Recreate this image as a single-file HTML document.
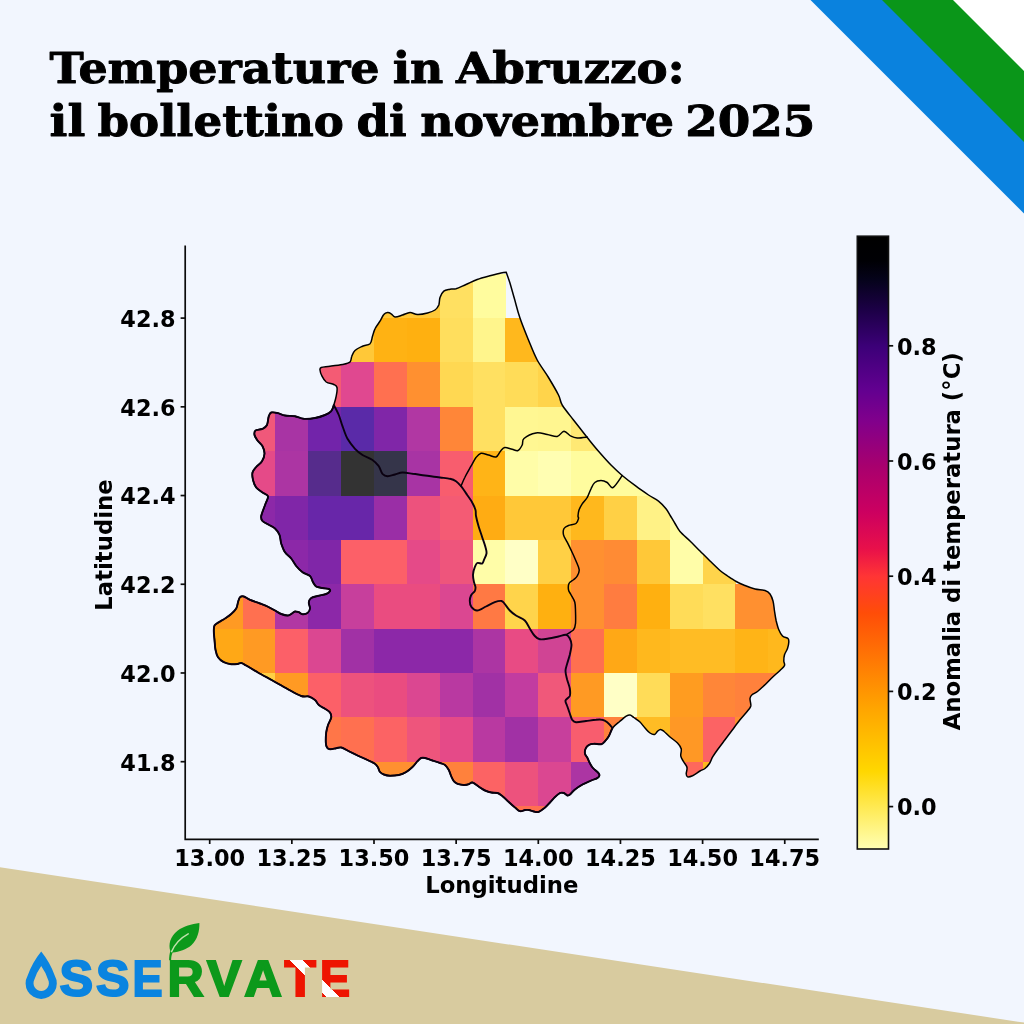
<!DOCTYPE html>
<html lang="it"><head><meta charset="utf-8"><title>Temperature in Abruzzo: il bollettino di novembre 2025</title>
<style>
html,body{margin:0;padding:0;background:#f2f6fe;}
body{width:1024px;height:1024px;overflow:hidden;position:relative;}
svg{display:block;position:absolute;left:0;top:0;}
.ttl{font-family:"DejaVu Serif","Liberation Serif",serif;font-weight:bold;font-size:42px;fill:#000;stroke:#000;stroke-width:0.9px;stroke-linejoin:round;}
.tk{font-family:"DejaVu Sans","Liberation Sans",sans-serif;font-weight:bold;font-size:22.4px;fill:#000;}
.al{font-size:22.75px;}
.lg{font-family:"Liberation Sans","DejaVu Sans",sans-serif;font-weight:bold;}
</style></head><body>
<svg width="1024" height="1024" viewBox="0 0 1024 1024">
<defs>
<linearGradient id="cb" x1="0" y1="1" x2="0" y2="0">
<stop offset="0.0000" stop-color="#ffffb3"/>
<stop offset="0.1270" stop-color="#ffd700"/>
<stop offset="0.2290" stop-color="#ffa500"/>
<stop offset="0.3850" stop-color="#ff4d08"/>
<stop offset="0.4450" stop-color="#ff3535"/>
<stop offset="0.4900" stop-color="#e8104a"/>
<stop offset="0.5500" stop-color="#cc0060"/>
<stop offset="0.6250" stop-color="#a8006e"/>
<stop offset="0.7000" stop-color="#80008c"/>
<stop offset="0.7500" stop-color="#620090"/>
<stop offset="0.8200" stop-color="#3c0078"/>
<stop offset="0.8800" stop-color="#1c0046"/>
<stop offset="0.9300" stop-color="#05031a"/>
<stop offset="0.9600" stop-color="#000004"/>
<stop offset="1.0000" stop-color="#000000"/>
</linearGradient>
<clipPath id="reg"><path d="M261.2,516.0C261.8,513.1 264.4,507.0 265.5,503.8C266.6,500.5 268.5,498.1 268.0,496.2C267.5,494.4 264.5,494.0 262.5,492.5C260.5,491.0 257.8,489.6 256.2,487.5C254.7,485.4 253.6,482.5 253.0,480.0C252.4,477.5 252.0,474.7 252.5,472.5C253.0,470.3 254.7,468.9 256.2,467.0C257.8,465.1 260.6,463.5 262.0,461.2C263.4,459.0 264.4,456.2 264.5,453.8C264.6,451.2 263.7,448.5 262.5,446.2C261.3,444.0 258.8,442.4 257.5,440.5C256.2,438.6 254.8,436.7 254.5,435.0C254.2,433.3 254.2,431.5 255.5,430.5C256.8,429.5 260.6,429.7 262.5,428.8C264.4,427.8 266.0,427.1 267.0,425.0C268.0,422.9 268.0,418.3 268.8,416.2C269.5,414.2 269.8,413.0 271.2,412.5C272.7,412.0 275.2,412.5 277.5,413.0C279.8,413.5 282.1,415.0 285.0,415.5C287.9,416.0 291.9,415.7 295.0,416.2C298.1,416.8 300.4,418.5 303.8,418.8C307.1,419.0 311.5,418.6 315.0,418.0C318.5,417.4 322.3,416.1 325.0,415.0C327.7,413.9 329.8,412.9 331.2,411.2C332.7,409.6 332.9,407.5 333.8,405.0C334.6,402.5 335.7,399.2 336.2,396.2C336.8,393.3 337.4,389.5 337.0,387.5C336.6,385.5 335.5,385.4 333.8,384.5C332.0,383.6 328.2,383.4 326.2,382.0C324.3,380.6 323.0,378.2 322.0,376.2C321.0,374.2 320.1,371.5 320.0,370.0C319.9,368.5 319.6,368.1 321.2,367.5C322.9,366.9 326.5,366.8 330.0,366.2C333.5,365.8 339.2,365.2 342.5,364.5C345.8,363.8 348.5,363.4 350.0,362.0C351.5,360.6 350.9,358.2 351.8,356.2C352.6,354.3 353.2,352.2 355.0,350.5C356.8,348.8 360.0,347.4 362.5,346.2C365.0,345.1 368.3,345.4 370.0,343.8C371.7,342.1 371.7,338.8 372.5,336.2C373.3,333.8 373.8,331.2 375.0,328.8C376.2,326.2 378.5,323.6 380.0,321.2C381.5,318.9 382.5,316.0 383.8,314.5C385.0,313.0 386.2,312.6 387.5,312.5C388.8,312.4 390.0,313.0 391.2,313.8C392.5,314.5 393.1,316.8 395.0,317.0C396.9,317.2 400.0,315.8 402.5,315.0C405.0,314.2 407.5,312.6 410.0,312.5C412.5,312.4 414.6,314.4 417.5,314.5C420.4,314.6 424.6,313.8 427.5,313.0C430.4,312.2 433.1,311.3 435.0,310.0C436.9,308.7 437.9,307.1 438.8,305.0C439.6,302.9 439.2,299.8 440.0,297.5C440.8,295.2 442.1,292.6 443.8,291.2C445.4,289.9 448.0,289.7 450.0,289.2C452.0,288.8 453.3,289.5 456.0,288.8C458.7,288.0 462.5,286.0 466.0,284.5C469.5,283.0 473.1,281.0 477.2,279.5C481.4,278.0 487.0,276.6 491.0,275.5C495.0,274.4 498.5,273.5 501.0,273.0C503.5,272.5 506.2,272.2 506.2,272.2C506.2,272.2 508.3,277.9 509.8,282.5C511.2,287.1 513.1,294.2 514.8,300.0C516.4,305.8 517.5,310.8 519.8,317.5C522.0,324.2 525.6,332.9 528.5,340.0C531.4,347.1 533.9,353.8 537.2,360.0C540.6,366.2 545.0,371.7 548.5,377.5C552.0,383.3 556.2,390.4 558.5,395.0C560.8,399.6 559.8,400.8 562.2,405.0C564.8,409.2 569.3,414.6 573.5,420.0C577.7,425.4 583.1,432.3 587.2,437.5C591.4,442.7 594.5,446.7 598.5,451.2C602.5,455.8 607.0,461.0 611.0,465.0C615.0,469.0 618.1,472.0 622.2,475.5C626.4,479.0 631.6,483.0 636.0,486.2C640.4,489.5 644.8,492.5 648.5,495.0C652.2,497.5 655.6,499.0 658.5,501.2C661.4,503.5 664.0,506.3 666.0,508.8C668.0,511.2 669.0,513.5 670.5,516.0C672.0,518.5 673.4,520.9 675.0,523.5C676.6,526.1 677.5,528.6 680.0,531.5C682.5,534.4 686.7,537.8 690.0,541.0C693.3,544.2 696.7,547.7 700.0,551.0C703.3,554.3 706.7,557.8 710.0,561.0C713.3,564.2 717.1,568.0 720.0,570.5C722.9,573.0 724.8,574.2 727.5,576.0C730.2,577.8 733.3,579.9 736.2,581.5C739.2,583.1 741.9,584.2 745.0,585.5C748.1,586.8 751.7,588.2 755.0,589.0C758.3,589.8 762.5,589.7 765.0,590.5C767.5,591.3 768.7,592.2 770.0,594.0C771.3,595.8 772.2,598.2 773.0,601.0C773.8,603.8 774.0,607.7 774.5,611.0C775.0,614.3 775.5,617.9 776.2,621.0C777.0,624.1 777.7,627.2 778.8,629.8C779.8,632.2 781.0,634.5 782.5,636.0C784.0,637.5 787.0,637.5 788.0,638.5C789.0,639.5 788.8,640.6 788.8,642.2C788.7,643.9 788.2,646.4 787.5,648.5C786.8,650.6 785.1,652.7 784.5,654.8C783.9,656.8 783.8,659.2 783.8,661.0C783.8,662.8 785.1,663.9 784.5,665.5C783.9,667.1 782.0,668.5 780.0,670.5C778.0,672.5 775.0,674.9 772.5,677.2C770.0,679.6 767.5,682.4 765.0,684.8C762.5,687.1 759.7,689.8 757.5,691.5C755.3,693.2 753.2,693.6 752.0,694.8C750.8,695.9 750.2,696.6 750.0,698.5C749.8,700.4 751.2,703.9 750.8,706.0C750.3,708.1 749.3,708.7 747.5,711.0C745.7,713.3 742.5,716.6 740.0,719.8C737.5,722.9 735.0,726.4 732.5,729.8C730.0,733.1 727.5,736.4 725.0,739.8C722.5,743.1 719.6,746.8 717.5,749.8C715.4,752.7 713.8,755.0 712.5,757.2C711.2,759.5 710.8,761.6 709.5,763.5C708.2,765.4 706.6,767.2 705.0,768.5C703.4,769.8 702.1,769.8 700.0,771.0C697.9,772.2 694.6,774.8 692.5,775.8C690.4,776.7 688.5,777.1 687.5,776.8C686.5,776.4 686.3,775.3 686.2,773.8C686.2,772.2 687.4,769.5 687.0,767.5C686.6,765.5 684.8,763.9 683.8,762.0C682.7,760.1 681.2,758.5 680.8,756.2C680.3,754.0 681.8,751.0 681.2,748.8C680.7,746.5 679.4,745.0 677.5,743.0C675.6,741.0 672.3,739.0 670.0,737.0C667.7,735.0 665.3,732.5 663.8,731.2C662.2,730.0 661.5,729.5 660.5,729.5C659.5,729.5 658.5,730.4 657.5,731.2C656.5,732.1 655.8,734.2 654.5,734.5C653.2,734.8 651.6,734.1 650.0,733.0C648.4,731.9 646.7,729.8 645.0,728.0C643.3,726.2 641.9,723.8 640.0,722.0C638.1,720.2 635.4,718.7 633.8,717.5C632.1,716.3 631.2,715.2 630.0,715.0C628.8,714.8 627.9,715.2 626.2,716.2C624.6,717.3 622.3,719.3 620.0,721.2C617.7,723.2 614.4,725.5 612.5,728.0C610.6,730.5 610.0,734.0 608.8,736.2C607.5,738.5 606.2,739.9 605.0,741.2C603.8,742.6 603.1,743.8 601.2,744.2C599.4,744.7 595.8,743.6 593.8,743.8C591.7,743.9 590.1,744.2 588.8,745.0C587.4,745.8 586.1,747.3 585.5,748.8C584.9,750.2 584.7,752.2 585.0,753.8C585.3,755.3 586.8,756.5 587.5,758.0C588.2,759.5 588.7,760.9 589.5,762.5C590.3,764.1 591.2,765.9 592.5,767.5C593.8,769.1 596.3,770.8 597.5,772.0C598.7,773.2 599.5,774.0 599.5,775.0C599.5,776.0 598.9,777.1 597.5,778.0C596.1,778.9 593.8,779.4 591.2,780.5C588.8,781.6 585.2,783.0 582.5,784.5C579.8,786.0 577.1,787.8 575.0,789.5C572.9,791.2 571.2,793.5 570.0,794.5C568.8,795.5 568.5,795.8 567.5,795.5C566.5,795.2 565.0,793.4 563.8,793.0C562.5,792.6 561.5,792.3 560.0,793.0C558.5,793.7 556.7,795.4 555.0,797.0C553.3,798.6 551.8,800.7 550.0,802.5C548.2,804.3 546.4,806.5 544.5,808.0C542.6,809.5 540.3,811.1 538.8,811.8C537.2,812.4 536.7,812.0 535.0,811.8C533.3,811.5 530.4,810.3 528.8,810.0C527.1,809.7 526.5,809.8 525.0,810.0C523.5,810.2 521.7,811.7 520.0,811.2C518.3,810.8 516.9,809.0 515.0,807.5C513.1,806.0 510.8,803.9 508.8,802.0C506.7,800.1 504.4,797.8 502.5,796.2C500.6,794.8 499.4,793.6 497.5,793.0C495.6,792.4 493.3,792.9 491.2,792.5C489.2,792.1 486.9,791.3 485.0,790.5C483.1,789.7 482.1,788.8 480.0,787.5C477.9,786.2 474.4,783.0 472.5,782.5C470.6,782.0 470.2,783.8 468.8,784.2C467.3,784.7 465.6,785.1 463.8,785.0C461.9,784.9 459.2,784.4 457.5,783.8C455.8,783.1 454.8,782.5 453.8,781.2C452.7,780.0 452.1,778.1 451.2,776.2C450.4,774.4 449.8,771.9 448.8,770.0C447.7,768.1 446.5,766.2 445.0,765.0C443.5,763.8 442.1,763.8 440.0,763.0C437.9,762.2 435.0,761.3 432.5,760.5C430.0,759.7 426.9,758.4 425.0,758.0C423.1,757.6 422.5,757.5 421.2,758.0C420.0,758.5 419.0,759.8 417.5,761.2C416.0,762.8 414.4,765.2 412.5,767.0C410.6,768.8 408.5,770.7 406.2,772.0C404.0,773.3 401.5,774.4 398.8,775.0C396.0,775.6 392.5,775.8 390.0,775.8C387.5,775.7 385.4,775.1 383.8,774.5C382.1,773.9 381.0,773.2 380.0,772.0C379.0,770.8 378.8,768.9 378.0,767.5C377.2,766.1 376.8,765.0 375.0,763.8C373.2,762.5 370.4,761.4 367.5,760.0C364.6,758.6 360.8,757.1 357.5,755.5C354.2,753.9 350.2,751.8 347.5,750.5C344.8,749.2 343.1,747.9 341.2,747.5C339.4,747.1 338.1,748.0 336.2,748.2C334.4,748.5 331.5,749.4 330.0,749.2C328.5,749.1 327.7,748.6 327.0,747.5C326.3,746.4 325.9,745.0 325.8,742.5C325.6,740.0 325.9,735.4 326.2,732.5C326.6,729.6 327.2,727.5 328.0,725.0C328.8,722.5 330.9,719.6 331.2,717.5C331.6,715.4 331.0,714.0 330.0,712.5C329.0,711.0 326.9,710.0 325.0,708.8C323.1,707.5 320.4,706.5 318.8,705.0C317.1,703.5 316.7,701.4 315.0,700.0C313.3,698.6 311.0,697.2 308.8,696.5C306.5,695.8 304.8,697.2 301.2,696.0C297.7,694.8 292.3,691.6 287.5,689.0C282.7,686.4 277.5,683.3 272.5,680.5C267.5,677.7 261.9,674.8 257.5,672.2C253.1,669.8 249.0,667.0 246.2,665.5C243.5,664.0 242.7,663.2 241.2,663.0C239.8,662.8 239.2,663.8 237.5,664.0C235.8,664.2 233.5,664.5 231.2,664.2C229.0,664.0 226.0,663.4 223.8,662.2C221.5,661.1 219.4,659.3 218.0,657.2C216.6,655.2 216.1,652.7 215.5,649.8C214.9,646.8 214.8,642.9 214.5,639.8C214.2,636.6 213.8,633.4 213.8,631.0C213.8,628.6 213.7,627.0 214.5,625.5C215.3,624.0 217.0,623.4 218.8,622.2C220.5,621.1 222.9,619.9 225.0,618.5C227.1,617.1 229.4,615.7 231.2,614.0C233.1,612.3 235.1,610.5 236.2,608.5C237.4,606.5 237.4,604.1 238.0,602.2C238.6,600.4 239.0,598.2 240.0,597.2C241.0,596.3 242.1,596.1 243.8,596.5C245.4,596.9 247.3,598.6 250.0,599.8C252.7,600.9 257.1,602.4 260.0,603.5C262.9,604.6 265.0,605.3 267.5,606.5C270.0,607.7 272.7,609.2 275.0,610.5C277.3,611.8 279.2,613.2 281.2,614.0C283.3,614.8 285.8,615.5 287.5,615.5C289.2,615.5 290.0,614.7 291.2,614.0C292.5,613.3 293.8,611.8 295.0,611.5C296.2,611.2 297.5,611.8 298.8,612.2C300.0,612.7 301.0,614.1 302.5,614.2C304.0,614.4 306.2,614.0 307.5,613.0C308.8,612.0 309.8,610.3 310.0,608.5C310.2,606.7 308.5,604.0 308.8,602.2C309.0,600.5 309.8,599.0 311.2,598.0C312.7,597.0 315.0,596.7 317.5,596.0C320.0,595.3 324.2,594.8 326.2,594.0C328.3,593.2 329.6,591.8 330.0,591.0C330.4,590.2 330.0,589.5 328.8,589.0C327.5,588.5 324.6,588.4 322.5,588.0C320.4,587.6 317.8,587.5 316.2,586.5C314.7,585.5 314.0,584.0 313.0,582.2C312.0,580.5 311.8,577.7 310.0,576.0C308.2,574.3 304.8,573.9 302.5,572.2C300.2,570.6 298.1,568.3 296.2,566.0C294.4,563.7 293.1,560.8 291.2,558.5C289.4,556.2 286.7,554.8 285.0,552.2C283.3,549.8 282.2,546.4 281.2,543.5C280.3,540.6 280.5,537.2 279.5,534.8C278.5,532.2 276.8,530.2 275.0,528.5C273.2,526.8 270.8,526.0 268.8,524.8C266.7,523.5 263.8,522.5 262.5,521.0C261.2,519.5 260.8,518.9 261.2,516.0Z"/></clipPath>
</defs>
<rect width="1024" height="1024" fill="#f2f6fe"/>
<polygon points="810.5,0 1024,0 1024,213.5" fill="#0a82de"/>
<polygon points="882,0 1024,0 1024,142" fill="#0a9619"/>
<polygon points="953,0 1024,0 1024,71" fill="#ffffff"/>
<polygon points="0,867.3 1024,1022.6 1024,1024 0,1024" fill="#d8cb9f"/>
<text class="ttl" y="83.4" xml:space="preserve"><tspan x="49.47" textLength="330.10" lengthAdjust="spacingAndGlyphs">Temperature</tspan> <tspan x="392.67" textLength="50.79" lengthAdjust="spacingAndGlyphs">in</tspan> <tspan x="455.93" textLength="228.90" lengthAdjust="spacingAndGlyphs">Abruzzo:</tspan></text><text class="ttl" y="135.9" xml:space="preserve"><tspan x="49.47" textLength="35.83" lengthAdjust="spacingAndGlyphs">il</tspan> <tspan x="97.54" textLength="246.31" lengthAdjust="spacingAndGlyphs">bollettino</tspan> <tspan x="356.60" textLength="50.20" lengthAdjust="spacingAndGlyphs">di</tspan> <tspan x="420.15" textLength="253.95" lengthAdjust="spacingAndGlyphs">novembre</tspan> <tspan x="685.15" textLength="130.31" lengthAdjust="spacingAndGlyphs">2025</tspan></text>
<g clip-path="url(#reg)" shape-rendering="crispEdges">
<rect x="209.70" y="362.46" width="33.36" height="44.86" fill="#f0587a"/>
<rect x="209.70" y="406.82" width="33.36" height="44.86" fill="#f0587a"/>
<rect x="209.70" y="451.18" width="33.36" height="44.86" fill="#e54a88"/>
<rect x="209.70" y="495.54" width="33.36" height="44.86" fill="#8c28a8"/>
<rect x="209.70" y="539.90" width="33.36" height="44.86" fill="#8c28a8"/>
<rect x="209.70" y="584.26" width="33.36" height="44.86" fill="#ff9a23"/>
<rect x="209.70" y="628.62" width="33.36" height="44.86" fill="#ffa816"/>
<rect x="209.70" y="672.98" width="33.36" height="44.86" fill="#ffa816"/>
<rect x="209.70" y="717.34" width="33.36" height="44.86" fill="#ffd045"/>
<rect x="242.56" y="362.46" width="33.36" height="44.86" fill="#f0587a"/>
<rect x="242.56" y="406.82" width="33.36" height="44.86" fill="#f0587a"/>
<rect x="242.56" y="451.18" width="33.36" height="44.86" fill="#e54a88"/>
<rect x="242.56" y="495.54" width="33.36" height="44.86" fill="#8c28a8"/>
<rect x="242.56" y="539.90" width="33.36" height="44.86" fill="#8c28a8"/>
<rect x="242.56" y="584.26" width="33.36" height="44.86" fill="#ff7050"/>
<rect x="242.56" y="628.62" width="33.36" height="44.86" fill="#ff9a23"/>
<rect x="242.56" y="672.98" width="33.36" height="44.86" fill="#ffd045"/>
<rect x="242.56" y="717.34" width="33.36" height="44.86" fill="#ffd045"/>
<rect x="242.56" y="761.70" width="33.36" height="44.86" fill="#ff7648"/>
<rect x="275.42" y="318.10" width="33.36" height="44.86" fill="#f45b74"/>
<rect x="275.42" y="362.46" width="33.36" height="44.86" fill="#f45b74"/>
<rect x="275.42" y="406.82" width="33.36" height="44.86" fill="#a834a4"/>
<rect x="275.42" y="451.18" width="33.36" height="44.86" fill="#ac35a3"/>
<rect x="275.42" y="495.54" width="33.36" height="44.86" fill="#8026a8"/>
<rect x="275.42" y="539.90" width="33.36" height="44.86" fill="#8c28a8"/>
<rect x="275.42" y="584.26" width="33.36" height="44.86" fill="#b137a3"/>
<rect x="275.42" y="628.62" width="33.36" height="44.86" fill="#fc6068"/>
<rect x="275.42" y="672.98" width="33.36" height="44.86" fill="#ff9a23"/>
<rect x="275.42" y="717.34" width="33.36" height="44.86" fill="#ff7648"/>
<rect x="275.42" y="761.70" width="33.36" height="44.86" fill="#ff7648"/>
<rect x="308.28" y="273.74" width="33.36" height="44.86" fill="#ffc838"/>
<rect x="308.28" y="318.10" width="33.36" height="44.86" fill="#ffc838"/>
<rect x="308.28" y="362.46" width="33.36" height="44.86" fill="#f45b74"/>
<rect x="308.28" y="406.82" width="33.36" height="44.86" fill="#7224aa"/>
<rect x="308.28" y="451.18" width="33.36" height="44.86" fill="#562c8c"/>
<rect x="308.28" y="495.54" width="33.36" height="44.86" fill="#6826a9"/>
<rect x="308.28" y="539.90" width="33.36" height="44.86" fill="#8026a8"/>
<rect x="308.28" y="584.26" width="33.36" height="44.86" fill="#8c28a8"/>
<rect x="308.28" y="628.62" width="33.36" height="44.86" fill="#db4791"/>
<rect x="308.28" y="672.98" width="33.36" height="44.86" fill="#fc6068"/>
<rect x="308.28" y="717.34" width="33.36" height="44.86" fill="#ff7648"/>
<rect x="308.28" y="761.70" width="33.36" height="44.86" fill="#ff7648"/>
<rect x="308.28" y="806.06" width="33.36" height="44.86" fill="#ff9030"/>
<rect x="341.14" y="273.74" width="33.36" height="44.86" fill="#ffc838"/>
<rect x="341.14" y="318.10" width="33.36" height="44.86" fill="#ffc838"/>
<rect x="341.14" y="362.46" width="33.36" height="44.86" fill="#e04890"/>
<rect x="341.14" y="406.82" width="33.36" height="44.86" fill="#5a2aa8"/>
<rect x="341.14" y="451.18" width="33.36" height="44.86" fill="#333333"/>
<rect x="341.14" y="495.54" width="33.36" height="44.86" fill="#6826a9"/>
<rect x="341.14" y="539.90" width="33.36" height="44.86" fill="#fc6068"/>
<rect x="341.14" y="584.26" width="33.36" height="44.86" fill="#c73f9c"/>
<rect x="341.14" y="628.62" width="33.36" height="44.86" fill="#a131a5"/>
<rect x="341.14" y="672.98" width="33.36" height="44.86" fill="#ed527d"/>
<rect x="341.14" y="717.34" width="33.36" height="44.86" fill="#ff7050"/>
<rect x="341.14" y="761.70" width="33.36" height="44.86" fill="#ff9030"/>
<rect x="341.14" y="806.06" width="33.36" height="44.86" fill="#ff9030"/>
<rect x="374.00" y="273.74" width="33.36" height="44.86" fill="#ffc838"/>
<rect x="374.00" y="318.10" width="33.36" height="44.86" fill="#ffb213"/>
<rect x="374.00" y="362.46" width="33.36" height="44.86" fill="#ff7050"/>
<rect x="374.00" y="406.82" width="33.36" height="44.86" fill="#8026a8"/>
<rect x="374.00" y="451.18" width="33.36" height="44.86" fill="#35354a"/>
<rect x="374.00" y="495.54" width="33.36" height="44.86" fill="#9a2ea6"/>
<rect x="374.00" y="539.90" width="33.36" height="44.86" fill="#fc6068"/>
<rect x="374.00" y="584.26" width="33.36" height="44.86" fill="#ea4c80"/>
<rect x="374.00" y="628.62" width="33.36" height="44.86" fill="#8c28a8"/>
<rect x="374.00" y="672.98" width="33.36" height="44.86" fill="#ea4c80"/>
<rect x="374.00" y="717.34" width="33.36" height="44.86" fill="#fc6364"/>
<rect x="374.00" y="761.70" width="33.36" height="44.86" fill="#ff9030"/>
<rect x="374.00" y="806.06" width="33.36" height="44.86" fill="#ff9030"/>
<rect x="406.86" y="273.74" width="33.36" height="44.86" fill="#ffc838"/>
<rect x="406.86" y="318.10" width="33.36" height="44.86" fill="#ffb010"/>
<rect x="406.86" y="362.46" width="33.36" height="44.86" fill="#ff9030"/>
<rect x="406.86" y="406.82" width="33.36" height="44.86" fill="#b137a3"/>
<rect x="406.86" y="451.18" width="33.36" height="44.86" fill="#a834a4"/>
<rect x="406.86" y="495.54" width="33.36" height="44.86" fill="#ed527d"/>
<rect x="406.86" y="539.90" width="33.36" height="44.86" fill="#e54a88"/>
<rect x="406.86" y="584.26" width="33.36" height="44.86" fill="#ea4c80"/>
<rect x="406.86" y="628.62" width="33.36" height="44.86" fill="#8c28a8"/>
<rect x="406.86" y="672.98" width="33.36" height="44.86" fill="#db4791"/>
<rect x="406.86" y="717.34" width="33.36" height="44.86" fill="#ee557c"/>
<rect x="406.86" y="761.70" width="33.36" height="44.86" fill="#ff9030"/>
<rect x="406.86" y="806.06" width="33.36" height="44.86" fill="#ff9030"/>
<rect x="439.72" y="273.74" width="33.36" height="44.86" fill="#ffe061"/>
<rect x="439.72" y="318.10" width="33.36" height="44.86" fill="#ffde5d"/>
<rect x="439.72" y="362.46" width="33.36" height="44.86" fill="#ffd852"/>
<rect x="439.72" y="406.82" width="33.36" height="44.86" fill="#ff8638"/>
<rect x="439.72" y="451.18" width="33.36" height="44.86" fill="#f85d6e"/>
<rect x="439.72" y="495.54" width="33.36" height="44.86" fill="#f45b74"/>
<rect x="439.72" y="539.90" width="33.36" height="44.86" fill="#ee557c"/>
<rect x="439.72" y="584.26" width="33.36" height="44.86" fill="#db4791"/>
<rect x="439.72" y="628.62" width="33.36" height="44.86" fill="#8c28a8"/>
<rect x="439.72" y="672.98" width="33.36" height="44.86" fill="#b939a1"/>
<rect x="439.72" y="717.34" width="33.36" height="44.86" fill="#e54a88"/>
<rect x="439.72" y="761.70" width="33.36" height="44.86" fill="#ff813c"/>
<rect x="439.72" y="806.06" width="33.36" height="44.86" fill="#ff813c"/>
<rect x="472.58" y="273.74" width="33.36" height="44.86" fill="#fffc9e"/>
<rect x="472.58" y="318.10" width="33.36" height="44.86" fill="#fff58c"/>
<rect x="472.58" y="362.46" width="33.36" height="44.86" fill="#ffe061"/>
<rect x="472.58" y="406.82" width="33.36" height="44.86" fill="#ffe061"/>
<rect x="472.58" y="451.18" width="33.36" height="44.86" fill="#ffb417"/>
<rect x="472.58" y="495.54" width="33.36" height="44.86" fill="#ffac13"/>
<rect x="472.58" y="539.90" width="33.36" height="44.86" fill="#fffda8"/>
<rect x="472.58" y="584.26" width="33.36" height="44.86" fill="#ff7944"/>
<rect x="472.58" y="628.62" width="33.36" height="44.86" fill="#ac35a3"/>
<rect x="472.58" y="672.98" width="33.36" height="44.86" fill="#a131a5"/>
<rect x="472.58" y="717.34" width="33.36" height="44.86" fill="#b939a1"/>
<rect x="472.58" y="761.70" width="33.36" height="44.86" fill="#fc6364"/>
<rect x="472.58" y="806.06" width="33.36" height="44.86" fill="#ff7050"/>
<rect x="505.44" y="318.10" width="33.36" height="44.86" fill="#ffb81d"/>
<rect x="505.44" y="362.46" width="33.36" height="44.86" fill="#ffdc58"/>
<rect x="505.44" y="406.82" width="33.36" height="44.86" fill="#fff792"/>
<rect x="505.44" y="451.18" width="33.36" height="44.86" fill="#fffda8"/>
<rect x="505.44" y="495.54" width="33.36" height="44.86" fill="#ffc838"/>
<rect x="505.44" y="539.90" width="33.36" height="44.86" fill="#ffffc6"/>
<rect x="505.44" y="584.26" width="33.36" height="44.86" fill="#ffd44b"/>
<rect x="505.44" y="628.62" width="33.36" height="44.86" fill="#e84b84"/>
<rect x="505.44" y="672.98" width="33.36" height="44.86" fill="#c23ca0"/>
<rect x="505.44" y="717.34" width="33.36" height="44.86" fill="#a131a5"/>
<rect x="505.44" y="761.70" width="33.36" height="44.86" fill="#ed527d"/>
<rect x="505.44" y="806.06" width="33.36" height="44.86" fill="#ff7050"/>
<rect x="538.30" y="273.74" width="33.36" height="44.86" fill="#ffb81d"/>
<rect x="538.30" y="318.10" width="33.36" height="44.86" fill="#ffb81d"/>
<rect x="538.30" y="362.46" width="33.36" height="44.86" fill="#ffd44b"/>
<rect x="538.30" y="406.82" width="33.36" height="44.86" fill="#fff690"/>
<rect x="538.30" y="451.18" width="33.36" height="44.86" fill="#fffeb2"/>
<rect x="538.30" y="495.54" width="33.36" height="44.86" fill="#ffc838"/>
<rect x="538.30" y="539.90" width="33.36" height="44.86" fill="#ffd045"/>
<rect x="538.30" y="584.26" width="33.36" height="44.86" fill="#ffb010"/>
<rect x="538.30" y="628.62" width="33.36" height="44.86" fill="#d04494"/>
<rect x="538.30" y="672.98" width="33.36" height="44.86" fill="#f0587a"/>
<rect x="538.30" y="717.34" width="33.36" height="44.86" fill="#c73f9c"/>
<rect x="538.30" y="761.70" width="33.36" height="44.86" fill="#db4791"/>
<rect x="538.30" y="806.06" width="33.36" height="44.86" fill="#ff7050"/>
<rect x="571.16" y="318.10" width="33.36" height="44.86" fill="#ffd44b"/>
<rect x="571.16" y="362.46" width="33.36" height="44.86" fill="#ffd44b"/>
<rect x="571.16" y="406.82" width="33.36" height="44.86" fill="#ffe974"/>
<rect x="571.16" y="451.18" width="33.36" height="44.86" fill="#fffc9e"/>
<rect x="571.16" y="495.54" width="33.36" height="44.86" fill="#ffb81d"/>
<rect x="571.16" y="539.90" width="33.36" height="44.86" fill="#ff9030"/>
<rect x="571.16" y="584.26" width="33.36" height="44.86" fill="#ff9030"/>
<rect x="571.16" y="628.62" width="33.36" height="44.86" fill="#ff7050"/>
<rect x="571.16" y="672.98" width="33.36" height="44.86" fill="#ff9a23"/>
<rect x="571.16" y="717.34" width="33.36" height="44.86" fill="#f85d6e"/>
<rect x="571.16" y="761.70" width="33.36" height="44.86" fill="#ac35a3"/>
<rect x="571.16" y="806.06" width="33.36" height="44.86" fill="#ac35a3"/>
<rect x="604.02" y="362.46" width="33.36" height="44.86" fill="#ffe974"/>
<rect x="604.02" y="406.82" width="33.36" height="44.86" fill="#ffe974"/>
<rect x="604.02" y="451.18" width="33.36" height="44.86" fill="#fffc9e"/>
<rect x="604.02" y="495.54" width="33.36" height="44.86" fill="#ffd045"/>
<rect x="604.02" y="539.90" width="33.36" height="44.86" fill="#ff8b34"/>
<rect x="604.02" y="584.26" width="33.36" height="44.86" fill="#ff7c40"/>
<rect x="604.02" y="628.62" width="33.36" height="44.86" fill="#ffa816"/>
<rect x="604.02" y="672.98" width="33.36" height="44.86" fill="#ffffc6"/>
<rect x="604.02" y="717.34" width="33.36" height="44.86" fill="#ff813c"/>
<rect x="604.02" y="761.70" width="33.36" height="44.86" fill="#ff813c"/>
<rect x="604.02" y="806.06" width="33.36" height="44.86" fill="#ac35a3"/>
<rect x="636.88" y="406.82" width="33.36" height="44.86" fill="#fffc9e"/>
<rect x="636.88" y="451.18" width="33.36" height="44.86" fill="#fffc9e"/>
<rect x="636.88" y="495.54" width="33.36" height="44.86" fill="#fff286"/>
<rect x="636.88" y="539.90" width="33.36" height="44.86" fill="#ffc838"/>
<rect x="636.88" y="584.26" width="33.36" height="44.86" fill="#ffb010"/>
<rect x="636.88" y="628.62" width="33.36" height="44.86" fill="#ffb81d"/>
<rect x="636.88" y="672.98" width="33.36" height="44.86" fill="#ffdc58"/>
<rect x="636.88" y="717.34" width="33.36" height="44.86" fill="#ffbc24"/>
<rect x="636.88" y="761.70" width="33.36" height="44.86" fill="#fe685c"/>
<rect x="636.88" y="806.06" width="33.36" height="44.86" fill="#fe685c"/>
<rect x="669.74" y="406.82" width="33.36" height="44.86" fill="#fffc9e"/>
<rect x="669.74" y="451.18" width="33.36" height="44.86" fill="#fffc9e"/>
<rect x="669.74" y="495.54" width="33.36" height="44.86" fill="#fffc9e"/>
<rect x="669.74" y="539.90" width="33.36" height="44.86" fill="#fffda8"/>
<rect x="669.74" y="584.26" width="33.36" height="44.86" fill="#ffdc58"/>
<rect x="669.74" y="628.62" width="33.36" height="44.86" fill="#ffbc24"/>
<rect x="669.74" y="672.98" width="33.36" height="44.86" fill="#ff9c20"/>
<rect x="669.74" y="717.34" width="33.36" height="44.86" fill="#ff9825"/>
<rect x="669.74" y="761.70" width="33.36" height="44.86" fill="#fe685c"/>
<rect x="669.74" y="806.06" width="33.36" height="44.86" fill="#fe685c"/>
<rect x="702.60" y="451.18" width="33.36" height="44.86" fill="#fffc9e"/>
<rect x="702.60" y="495.54" width="33.36" height="44.86" fill="#fffc9e"/>
<rect x="702.60" y="539.90" width="33.36" height="44.86" fill="#ffd44b"/>
<rect x="702.60" y="584.26" width="33.36" height="44.86" fill="#ffe061"/>
<rect x="702.60" y="628.62" width="33.36" height="44.86" fill="#ffbc24"/>
<rect x="702.60" y="672.98" width="33.36" height="44.86" fill="#ff8638"/>
<rect x="702.60" y="717.34" width="33.36" height="44.86" fill="#fc6364"/>
<rect x="702.60" y="761.70" width="33.36" height="44.86" fill="#ffb81d"/>
<rect x="702.60" y="806.06" width="33.36" height="44.86" fill="#ffb81d"/>
<rect x="735.46" y="495.54" width="33.36" height="44.86" fill="#ffd44b"/>
<rect x="735.46" y="584.26" width="33.36" height="44.86" fill="#ff9030"/>
<rect x="735.46" y="628.62" width="33.36" height="44.86" fill="#ffb417"/>
<rect x="735.46" y="672.98" width="33.36" height="44.86" fill="#ff813c"/>
<rect x="735.46" y="717.34" width="33.36" height="44.86" fill="#ff9030"/>
<rect x="735.46" y="761.70" width="33.36" height="44.86" fill="#ff9030"/>
<rect x="735.46" y="806.06" width="33.36" height="44.86" fill="#ffb81d"/>
<rect x="768.32" y="539.90" width="33.36" height="44.86" fill="#ff9030"/>
<rect x="768.32" y="584.26" width="33.36" height="44.86" fill="#ff9030"/>
<rect x="768.32" y="628.62" width="33.36" height="44.86" fill="#ffb81d"/>
<rect x="768.32" y="672.98" width="33.36" height="44.86" fill="#ff813c"/>
<rect x="768.32" y="717.34" width="33.36" height="44.86" fill="#ff813c"/>
<rect x="768.32" y="761.70" width="33.36" height="44.86" fill="#ff9030"/>
</g>
<path d="M261.2,516.0C261.8,513.1 264.4,507.0 265.5,503.8C266.6,500.5 268.5,498.1 268.0,496.2C267.5,494.4 264.5,494.0 262.5,492.5C260.5,491.0 257.8,489.6 256.2,487.5C254.7,485.4 253.6,482.5 253.0,480.0C252.4,477.5 252.0,474.7 252.5,472.5C253.0,470.3 254.7,468.9 256.2,467.0C257.8,465.1 260.6,463.5 262.0,461.2C263.4,459.0 264.4,456.2 264.5,453.8C264.6,451.2 263.7,448.5 262.5,446.2C261.3,444.0 258.8,442.4 257.5,440.5C256.2,438.6 254.8,436.7 254.5,435.0C254.2,433.3 254.2,431.5 255.5,430.5C256.8,429.5 260.6,429.7 262.5,428.8C264.4,427.8 266.0,427.1 267.0,425.0C268.0,422.9 268.0,418.3 268.8,416.2C269.5,414.2 269.8,413.0 271.2,412.5C272.7,412.0 275.2,412.5 277.5,413.0C279.8,413.5 282.1,415.0 285.0,415.5C287.9,416.0 291.9,415.7 295.0,416.2C298.1,416.8 300.4,418.5 303.8,418.8C307.1,419.0 311.5,418.6 315.0,418.0C318.5,417.4 322.3,416.1 325.0,415.0C327.7,413.9 329.8,412.9 331.2,411.2C332.7,409.6 332.9,407.5 333.8,405.0C334.6,402.5 335.7,399.2 336.2,396.2C336.8,393.3 337.4,389.5 337.0,387.5C336.6,385.5 335.5,385.4 333.8,384.5C332.0,383.6 328.2,383.4 326.2,382.0C324.3,380.6 323.0,378.2 322.0,376.2C321.0,374.2 320.1,371.5 320.0,370.0C319.9,368.5 319.6,368.1 321.2,367.5C322.9,366.9 326.5,366.8 330.0,366.2C333.5,365.8 339.2,365.2 342.5,364.5C345.8,363.8 348.5,363.4 350.0,362.0C351.5,360.6 350.9,358.2 351.8,356.2C352.6,354.3 353.2,352.2 355.0,350.5C356.8,348.8 360.0,347.4 362.5,346.2C365.0,345.1 368.3,345.4 370.0,343.8C371.7,342.1 371.7,338.8 372.5,336.2C373.3,333.8 373.8,331.2 375.0,328.8C376.2,326.2 378.5,323.6 380.0,321.2C381.5,318.9 382.5,316.0 383.8,314.5C385.0,313.0 386.2,312.6 387.5,312.5C388.8,312.4 390.0,313.0 391.2,313.8C392.5,314.5 393.1,316.8 395.0,317.0C396.9,317.2 400.0,315.8 402.5,315.0C405.0,314.2 407.5,312.6 410.0,312.5C412.5,312.4 414.6,314.4 417.5,314.5C420.4,314.6 424.6,313.8 427.5,313.0C430.4,312.2 433.1,311.3 435.0,310.0C436.9,308.7 437.9,307.1 438.8,305.0C439.6,302.9 439.2,299.8 440.0,297.5C440.8,295.2 442.1,292.6 443.8,291.2C445.4,289.9 448.0,289.7 450.0,289.2C452.0,288.8 453.3,289.5 456.0,288.8C458.7,288.0 462.5,286.0 466.0,284.5C469.5,283.0 473.1,281.0 477.2,279.5C481.4,278.0 487.0,276.6 491.0,275.5C495.0,274.4 498.5,273.5 501.0,273.0C503.5,272.5 506.2,272.2 506.2,272.2C506.2,272.2 508.3,277.9 509.8,282.5C511.2,287.1 513.1,294.2 514.8,300.0C516.4,305.8 517.5,310.8 519.8,317.5C522.0,324.2 525.6,332.9 528.5,340.0C531.4,347.1 533.9,353.8 537.2,360.0C540.6,366.2 545.0,371.7 548.5,377.5C552.0,383.3 556.2,390.4 558.5,395.0C560.8,399.6 559.8,400.8 562.2,405.0C564.8,409.2 569.3,414.6 573.5,420.0C577.7,425.4 583.1,432.3 587.2,437.5C591.4,442.7 594.5,446.7 598.5,451.2C602.5,455.8 607.0,461.0 611.0,465.0C615.0,469.0 618.1,472.0 622.2,475.5C626.4,479.0 631.6,483.0 636.0,486.2C640.4,489.5 644.8,492.5 648.5,495.0C652.2,497.5 655.6,499.0 658.5,501.2C661.4,503.5 664.0,506.3 666.0,508.8C668.0,511.2 669.0,513.5 670.5,516.0C672.0,518.5 673.4,520.9 675.0,523.5C676.6,526.1 677.5,528.6 680.0,531.5C682.5,534.4 686.7,537.8 690.0,541.0C693.3,544.2 696.7,547.7 700.0,551.0C703.3,554.3 706.7,557.8 710.0,561.0C713.3,564.2 717.1,568.0 720.0,570.5C722.9,573.0 724.8,574.2 727.5,576.0C730.2,577.8 733.3,579.9 736.2,581.5C739.2,583.1 741.9,584.2 745.0,585.5C748.1,586.8 751.7,588.2 755.0,589.0C758.3,589.8 762.5,589.7 765.0,590.5C767.5,591.3 768.7,592.2 770.0,594.0C771.3,595.8 772.2,598.2 773.0,601.0C773.8,603.8 774.0,607.7 774.5,611.0C775.0,614.3 775.5,617.9 776.2,621.0C777.0,624.1 777.7,627.2 778.8,629.8C779.8,632.2 781.0,634.5 782.5,636.0C784.0,637.5 787.0,637.5 788.0,638.5C789.0,639.5 788.8,640.6 788.8,642.2C788.7,643.9 788.2,646.4 787.5,648.5C786.8,650.6 785.1,652.7 784.5,654.8C783.9,656.8 783.8,659.2 783.8,661.0C783.8,662.8 785.1,663.9 784.5,665.5C783.9,667.1 782.0,668.5 780.0,670.5C778.0,672.5 775.0,674.9 772.5,677.2C770.0,679.6 767.5,682.4 765.0,684.8C762.5,687.1 759.7,689.8 757.5,691.5C755.3,693.2 753.2,693.6 752.0,694.8C750.8,695.9 750.2,696.6 750.0,698.5C749.8,700.4 751.2,703.9 750.8,706.0C750.3,708.1 749.3,708.7 747.5,711.0C745.7,713.3 742.5,716.6 740.0,719.8C737.5,722.9 735.0,726.4 732.5,729.8C730.0,733.1 727.5,736.4 725.0,739.8C722.5,743.1 719.6,746.8 717.5,749.8C715.4,752.7 713.8,755.0 712.5,757.2C711.2,759.5 710.8,761.6 709.5,763.5C708.2,765.4 706.6,767.2 705.0,768.5C703.4,769.8 702.1,769.8 700.0,771.0C697.9,772.2 694.6,774.8 692.5,775.8C690.4,776.7 688.5,777.1 687.5,776.8C686.5,776.4 686.3,775.3 686.2,773.8C686.2,772.2 687.4,769.5 687.0,767.5C686.6,765.5 684.8,763.9 683.8,762.0C682.7,760.1 681.2,758.5 680.8,756.2C680.3,754.0 681.8,751.0 681.2,748.8C680.7,746.5 679.4,745.0 677.5,743.0C675.6,741.0 672.3,739.0 670.0,737.0C667.7,735.0 665.3,732.5 663.8,731.2C662.2,730.0 661.5,729.5 660.5,729.5C659.5,729.5 658.5,730.4 657.5,731.2C656.5,732.1 655.8,734.2 654.5,734.5C653.2,734.8 651.6,734.1 650.0,733.0C648.4,731.9 646.7,729.8 645.0,728.0C643.3,726.2 641.9,723.8 640.0,722.0C638.1,720.2 635.4,718.7 633.8,717.5C632.1,716.3 631.2,715.2 630.0,715.0C628.8,714.8 627.9,715.2 626.2,716.2C624.6,717.3 622.3,719.3 620.0,721.2C617.7,723.2 614.4,725.5 612.5,728.0C610.6,730.5 610.0,734.0 608.8,736.2C607.5,738.5 606.2,739.9 605.0,741.2C603.8,742.6 603.1,743.8 601.2,744.2C599.4,744.7 595.8,743.6 593.8,743.8C591.7,743.9 590.1,744.2 588.8,745.0C587.4,745.8 586.1,747.3 585.5,748.8C584.9,750.2 584.7,752.2 585.0,753.8C585.3,755.3 586.8,756.5 587.5,758.0C588.2,759.5 588.7,760.9 589.5,762.5C590.3,764.1 591.2,765.9 592.5,767.5C593.8,769.1 596.3,770.8 597.5,772.0C598.7,773.2 599.5,774.0 599.5,775.0C599.5,776.0 598.9,777.1 597.5,778.0C596.1,778.9 593.8,779.4 591.2,780.5C588.8,781.6 585.2,783.0 582.5,784.5C579.8,786.0 577.1,787.8 575.0,789.5C572.9,791.2 571.2,793.5 570.0,794.5C568.8,795.5 568.5,795.8 567.5,795.5C566.5,795.2 565.0,793.4 563.8,793.0C562.5,792.6 561.5,792.3 560.0,793.0C558.5,793.7 556.7,795.4 555.0,797.0C553.3,798.6 551.8,800.7 550.0,802.5C548.2,804.3 546.4,806.5 544.5,808.0C542.6,809.5 540.3,811.1 538.8,811.8C537.2,812.4 536.7,812.0 535.0,811.8C533.3,811.5 530.4,810.3 528.8,810.0C527.1,809.7 526.5,809.8 525.0,810.0C523.5,810.2 521.7,811.7 520.0,811.2C518.3,810.8 516.9,809.0 515.0,807.5C513.1,806.0 510.8,803.9 508.8,802.0C506.7,800.1 504.4,797.8 502.5,796.2C500.6,794.8 499.4,793.6 497.5,793.0C495.6,792.4 493.3,792.9 491.2,792.5C489.2,792.1 486.9,791.3 485.0,790.5C483.1,789.7 482.1,788.8 480.0,787.5C477.9,786.2 474.4,783.0 472.5,782.5C470.6,782.0 470.2,783.8 468.8,784.2C467.3,784.7 465.6,785.1 463.8,785.0C461.9,784.9 459.2,784.4 457.5,783.8C455.8,783.1 454.8,782.5 453.8,781.2C452.7,780.0 452.1,778.1 451.2,776.2C450.4,774.4 449.8,771.9 448.8,770.0C447.7,768.1 446.5,766.2 445.0,765.0C443.5,763.8 442.1,763.8 440.0,763.0C437.9,762.2 435.0,761.3 432.5,760.5C430.0,759.7 426.9,758.4 425.0,758.0C423.1,757.6 422.5,757.5 421.2,758.0C420.0,758.5 419.0,759.8 417.5,761.2C416.0,762.8 414.4,765.2 412.5,767.0C410.6,768.8 408.5,770.7 406.2,772.0C404.0,773.3 401.5,774.4 398.8,775.0C396.0,775.6 392.5,775.8 390.0,775.8C387.5,775.7 385.4,775.1 383.8,774.5C382.1,773.9 381.0,773.2 380.0,772.0C379.0,770.8 378.8,768.9 378.0,767.5C377.2,766.1 376.8,765.0 375.0,763.8C373.2,762.5 370.4,761.4 367.5,760.0C364.6,758.6 360.8,757.1 357.5,755.5C354.2,753.9 350.2,751.8 347.5,750.5C344.8,749.2 343.1,747.9 341.2,747.5C339.4,747.1 338.1,748.0 336.2,748.2C334.4,748.5 331.5,749.4 330.0,749.2C328.5,749.1 327.7,748.6 327.0,747.5C326.3,746.4 325.9,745.0 325.8,742.5C325.6,740.0 325.9,735.4 326.2,732.5C326.6,729.6 327.2,727.5 328.0,725.0C328.8,722.5 330.9,719.6 331.2,717.5C331.6,715.4 331.0,714.0 330.0,712.5C329.0,711.0 326.9,710.0 325.0,708.8C323.1,707.5 320.4,706.5 318.8,705.0C317.1,703.5 316.7,701.4 315.0,700.0C313.3,698.6 311.0,697.2 308.8,696.5C306.5,695.8 304.8,697.2 301.2,696.0C297.7,694.8 292.3,691.6 287.5,689.0C282.7,686.4 277.5,683.3 272.5,680.5C267.5,677.7 261.9,674.8 257.5,672.2C253.1,669.8 249.0,667.0 246.2,665.5C243.5,664.0 242.7,663.2 241.2,663.0C239.8,662.8 239.2,663.8 237.5,664.0C235.8,664.2 233.5,664.5 231.2,664.2C229.0,664.0 226.0,663.4 223.8,662.2C221.5,661.1 219.4,659.3 218.0,657.2C216.6,655.2 216.1,652.7 215.5,649.8C214.9,646.8 214.8,642.9 214.5,639.8C214.2,636.6 213.8,633.4 213.8,631.0C213.8,628.6 213.7,627.0 214.5,625.5C215.3,624.0 217.0,623.4 218.8,622.2C220.5,621.1 222.9,619.9 225.0,618.5C227.1,617.1 229.4,615.7 231.2,614.0C233.1,612.3 235.1,610.5 236.2,608.5C237.4,606.5 237.4,604.1 238.0,602.2C238.6,600.4 239.0,598.2 240.0,597.2C241.0,596.3 242.1,596.1 243.8,596.5C245.4,596.9 247.3,598.6 250.0,599.8C252.7,600.9 257.1,602.4 260.0,603.5C262.9,604.6 265.0,605.3 267.5,606.5C270.0,607.7 272.7,609.2 275.0,610.5C277.3,611.8 279.2,613.2 281.2,614.0C283.3,614.8 285.8,615.5 287.5,615.5C289.2,615.5 290.0,614.7 291.2,614.0C292.5,613.3 293.8,611.8 295.0,611.5C296.2,611.2 297.5,611.8 298.8,612.2C300.0,612.7 301.0,614.1 302.5,614.2C304.0,614.4 306.2,614.0 307.5,613.0C308.8,612.0 309.8,610.3 310.0,608.5C310.2,606.7 308.5,604.0 308.8,602.2C309.0,600.5 309.8,599.0 311.2,598.0C312.7,597.0 315.0,596.7 317.5,596.0C320.0,595.3 324.2,594.8 326.2,594.0C328.3,593.2 329.6,591.8 330.0,591.0C330.4,590.2 330.0,589.5 328.8,589.0C327.5,588.5 324.6,588.4 322.5,588.0C320.4,587.6 317.8,587.5 316.2,586.5C314.7,585.5 314.0,584.0 313.0,582.2C312.0,580.5 311.8,577.7 310.0,576.0C308.2,574.3 304.8,573.9 302.5,572.2C300.2,570.6 298.1,568.3 296.2,566.0C294.4,563.7 293.1,560.8 291.2,558.5C289.4,556.2 286.7,554.8 285.0,552.2C283.3,549.8 282.2,546.4 281.2,543.5C280.3,540.6 280.5,537.2 279.5,534.8C278.5,532.2 276.8,530.2 275.0,528.5C273.2,526.8 270.8,526.0 268.8,524.8C266.7,523.5 263.8,522.5 262.5,521.0C261.2,519.5 260.8,518.9 261.2,516.0Z" fill="none" stroke="#000" stroke-width="1.5" stroke-linejoin="miter"/>
<path d="M587.2,437.0C585.6,437.2 580.0,438.1 577.2,438.0C574.5,437.9 573.2,437.4 571.0,436.2C568.8,435.1 566.3,431.2 564.0,431.2C561.7,431.3 560.0,436.0 557.2,436.5C554.5,437.0 550.8,435.1 547.2,434.5C543.7,433.9 539.9,432.3 536.0,433.0C532.1,433.7 526.3,436.5 524.0,438.5C521.7,440.5 523.2,443.0 522.2,445.0C521.2,447.0 519.7,449.8 518.0,450.5C516.3,451.2 514.5,449.8 512.2,449.2C510.0,448.8 506.7,447.2 504.8,447.5C502.8,447.8 502.0,449.7 500.5,451.2C499.0,452.8 498.0,456.4 496.0,457.0C494.0,457.6 491.0,455.6 488.5,455.0C486.0,454.4 483.1,452.8 481.0,453.2C478.9,453.7 477.7,455.3 476.0,457.5C474.3,459.7 472.9,462.9 471.0,466.2C469.1,469.6 466.4,474.2 464.8,477.5C463.1,480.8 461.6,484.8 461.0,486.2" fill="none" stroke="#000" stroke-width="1.5" stroke-linejoin="miter" stroke-linecap="round"/>
<path d="M622.2,475.5C620.7,477.5 615.5,486.3 613.0,487.5C610.5,488.7 609.2,483.7 607.2,482.5C605.2,481.3 603.1,480.5 601.0,480.5C598.9,480.5 596.4,481.1 594.8,482.5C593.1,483.9 592.2,486.2 591.0,488.8C589.8,491.2 588.7,495.0 587.2,497.5C585.8,500.0 583.6,501.7 582.2,503.8C580.9,505.8 579.7,508.0 579.0,510.0C578.3,512.0 578.1,514.6 578.0,516.0C577.9,517.4 578.8,517.2 578.5,518.5C578.2,519.8 577.7,522.3 576.0,523.5C574.3,524.7 570.5,524.7 568.5,525.5C566.5,526.3 564.8,527.0 564.0,528.5C563.2,530.0 563.0,532.5 563.5,534.8C564.0,537.0 565.9,539.5 567.2,542.2C568.6,545.0 570.0,547.9 571.5,551.0C573.0,554.1 574.7,557.9 576.0,561.0C577.3,564.1 579.0,567.2 579.2,569.8C579.5,572.2 578.2,574.3 577.2,576.0C576.3,577.7 574.9,578.5 573.5,579.8C572.1,581.0 569.8,581.8 569.0,583.5C568.2,585.2 568.2,587.9 568.5,589.8C568.8,591.6 570.0,592.7 571.0,594.8C572.0,596.8 574.0,599.5 574.8,602.2C575.5,605.0 575.4,607.5 575.5,611.0C575.6,614.5 575.8,620.4 575.5,623.5C575.2,626.6 575.1,627.9 573.5,629.8C571.9,631.6 567.2,633.9 566.0,634.8" fill="none" stroke="#000" stroke-width="1.5" stroke-linejoin="miter" stroke-linecap="round"/>
<path d="M612.5,728.0C612.5,728.0 610.0,734.0 608.8,736.2C607.5,738.5 606.2,739.9 605.0,741.2C603.8,742.6 603.1,743.8 601.2,744.2C599.4,744.7 595.8,743.6 593.8,743.8C591.7,743.9 590.1,744.2 588.8,745.0C587.4,745.8 586.1,747.3 585.5,748.8C584.9,750.2 584.7,752.2 585.0,753.8C585.3,755.3 586.8,756.5 587.5,758.0C588.2,759.5 588.7,760.9 589.5,762.5C590.3,764.1 591.2,765.9 592.5,767.5C593.8,769.1 596.3,770.8 597.5,772.0C598.7,773.2 599.5,774.0 599.5,775.0C599.5,776.0 598.9,777.1 597.5,778.0C596.1,778.9 593.8,779.4 591.2,780.5C588.8,781.6 585.2,783.0 582.5,784.5C579.8,786.0 577.1,787.8 575.0,789.5C572.9,791.2 571.2,793.5 570.0,794.5C568.8,795.5 568.5,795.8 567.5,795.5C566.5,795.2 565.0,793.4 563.8,793.0C562.5,792.6 561.5,792.3 560.0,793.0C558.5,793.7 556.7,795.4 555.0,797.0C553.3,798.6 551.8,800.7 550.0,802.5C548.2,804.3 546.4,806.5 544.5,808.0C542.6,809.5 540.3,811.1 538.8,811.8C537.2,812.4 536.7,812.0 535.0,811.8C533.3,811.5 530.4,810.3 528.8,810.0C527.1,809.7 526.5,809.8 525.0,810.0C523.5,810.2 521.7,811.7 520.0,811.2C518.3,810.8 516.9,809.0 515.0,807.5C513.1,806.0 510.8,803.9 508.8,802.0C506.7,800.1 504.4,797.8 502.5,796.2C500.6,794.8 499.4,793.6 497.5,793.0C495.6,792.4 493.3,792.9 491.2,792.5C489.2,792.1 486.9,791.3 485.0,790.5C483.1,789.7 482.1,788.8 480.0,787.5C477.9,786.2 474.4,783.0 472.5,782.5C470.6,782.0 470.2,783.8 468.8,784.2C467.3,784.7 465.6,785.1 463.8,785.0C461.9,784.9 459.2,784.4 457.5,783.8C455.8,783.1 454.8,782.5 453.8,781.2C452.7,780.0 452.1,778.1 451.2,776.2C450.4,774.4 449.8,771.9 448.8,770.0C447.7,768.1 446.5,766.2 445.0,765.0C443.5,763.8 442.1,763.8 440.0,763.0C437.9,762.2 435.0,761.3 432.5,760.5C430.0,759.7 426.9,758.4 425.0,758.0C423.1,757.6 422.5,757.5 421.2,758.0C420.0,758.5 419.0,759.8 417.5,761.2C416.0,762.8 414.4,765.2 412.5,767.0C410.6,768.8 408.5,770.7 406.2,772.0C404.0,773.3 401.5,774.4 398.8,775.0C396.0,775.6 392.5,775.8 390.0,775.8C387.5,775.7 385.4,775.1 383.8,774.5C382.1,773.9 381.0,773.2 380.0,772.0C379.0,770.8 378.8,768.9 378.0,767.5C377.2,766.1 376.8,765.0 375.0,763.8C373.2,762.5 370.4,761.4 367.5,760.0C364.6,758.6 360.8,757.1 357.5,755.5C354.2,753.9 350.2,751.8 347.5,750.5C344.8,749.2 343.1,747.9 341.2,747.5C339.4,747.1 338.1,748.0 336.2,748.2C334.4,748.5 331.5,749.4 330.0,749.2C328.5,749.1 327.7,748.6 327.0,747.5C326.3,746.4 325.9,745.0 325.8,742.5C325.6,740.0 325.9,735.4 326.2,732.5C326.6,729.6 327.2,727.5 328.0,725.0C328.8,722.5 330.9,719.6 331.2,717.5C331.6,715.4 331.0,714.0 330.0,712.5C329.0,711.0 326.9,710.0 325.0,708.8C323.1,707.5 320.4,706.5 318.8,705.0C317.1,703.5 316.7,701.4 315.0,700.0C313.3,698.6 311.0,697.2 308.8,696.5C306.5,695.8 304.8,697.2 301.2,696.0C297.7,694.8 292.3,691.6 287.5,689.0C282.7,686.4 277.5,683.3 272.5,680.5C267.5,677.7 261.9,674.8 257.5,672.2C253.1,669.8 249.0,667.0 246.2,665.5C243.5,664.0 242.7,663.2 241.2,663.0C239.8,662.8 239.2,663.8 237.5,664.0C235.8,664.2 233.5,664.5 231.2,664.2C229.0,664.0 226.0,663.4 223.8,662.2C221.5,661.1 219.4,659.3 218.0,657.2C216.6,655.2 216.1,652.7 215.5,649.8C214.9,646.8 214.8,642.9 214.5,639.8C214.2,636.6 213.8,633.4 213.8,631.0C213.8,628.6 213.7,627.0 214.5,625.5C215.3,624.0 217.0,623.4 218.8,622.2C220.5,621.1 222.9,619.9 225.0,618.5C227.1,617.1 229.4,615.7 231.2,614.0C233.1,612.3 235.1,610.5 236.2,608.5C237.4,606.5 237.4,604.1 238.0,602.2C238.6,600.4 239.0,598.2 240.0,597.2C241.0,596.3 242.1,596.1 243.8,596.5C245.4,596.9 247.3,598.6 250.0,599.8C252.7,600.9 257.1,602.4 260.0,603.5C262.9,604.6 265.0,605.3 267.5,606.5C270.0,607.7 272.7,609.2 275.0,610.5C277.3,611.8 279.2,613.2 281.2,614.0C283.3,614.8 285.8,615.5 287.5,615.5C289.2,615.5 290.0,614.7 291.2,614.0C292.5,613.3 293.8,611.8 295.0,611.5C296.2,611.2 297.5,611.8 298.8,612.2C300.0,612.7 301.0,614.1 302.5,614.2C304.0,614.4 306.2,614.0 307.5,613.0C308.8,612.0 309.8,610.3 310.0,608.5C310.2,606.7 308.5,604.0 308.8,602.2C309.0,600.5 309.8,599.0 311.2,598.0C312.7,597.0 315.0,596.7 317.5,596.0C320.0,595.3 324.2,594.8 326.2,594.0C328.3,593.2 329.6,591.8 330.0,591.0C330.4,590.2 330.0,589.5 328.8,589.0C327.5,588.5 324.6,588.4 322.5,588.0C320.4,587.6 317.8,587.5 316.2,586.5C314.7,585.5 314.0,584.0 313.0,582.2C312.0,580.5 311.8,577.7 310.0,576.0C308.2,574.3 304.8,573.9 302.5,572.2C300.2,570.6 298.1,568.3 296.2,566.0C294.4,563.7 293.1,560.8 291.2,558.5C289.4,556.2 286.7,554.8 285.0,552.2C283.3,549.8 282.2,546.4 281.2,543.5C280.3,540.6 280.5,537.2 279.5,534.8C278.5,532.2 276.8,530.2 275.0,528.5C273.2,526.8 270.8,526.0 268.8,524.8C266.7,523.5 263.8,522.5 262.5,521.0C261.2,519.5 260.8,518.9 261.2,516.0C261.8,513.1 264.4,507.0 265.5,503.8C266.6,500.5 268.5,498.1 268.0,496.2C267.5,494.4 264.5,494.0 262.5,492.5C260.5,491.0 257.8,489.6 256.2,487.5C254.7,485.4 253.6,482.5 253.0,480.0C252.4,477.5 252.0,474.7 252.5,472.5C253.0,470.3 254.7,468.9 256.2,467.0C257.8,465.1 260.6,463.5 262.0,461.2C263.4,459.0 264.4,456.2 264.5,453.8C264.6,451.2 263.7,448.5 262.5,446.2C261.3,444.0 258.8,442.4 257.5,440.5C256.2,438.6 254.8,436.7 254.5,435.0C254.2,433.3 254.2,431.5 255.5,430.5C256.8,429.5 260.6,429.7 262.5,428.8C264.4,427.8 266.0,427.1 267.0,425.0C268.0,422.9 268.0,418.3 268.8,416.2C269.5,414.2 269.8,413.0 271.2,412.5C272.7,412.0 275.2,412.5 277.5,413.0C279.8,413.5 282.1,415.0 285.0,415.5C287.9,416.0 291.9,415.7 295.0,416.2C298.1,416.8 300.4,418.5 303.8,418.8C307.1,419.0 311.5,418.6 315.0,418.0C318.5,417.4 322.3,416.1 325.0,415.0C327.7,413.9 329.8,412.9 331.2,411.2C332.7,409.6 333.8,405.0 333.8,405.0C333.8,405.0 337.3,411.5 338.8,415.0C340.2,418.5 341.0,422.3 342.5,426.2C344.0,430.2 345.4,435.0 347.5,438.8C349.6,442.5 352.5,446.0 355.0,448.8C357.5,451.5 359.6,453.1 362.5,455.0C365.4,456.9 369.8,458.1 372.5,460.0C375.2,461.9 377.1,464.0 378.8,466.2C380.4,468.5 381.0,472.1 382.5,473.8C384.0,475.4 385.4,476.1 387.5,476.2C389.6,476.4 392.5,475.1 395.0,474.5C397.5,473.9 399.6,472.6 402.5,472.5C405.4,472.4 408.8,473.2 412.5,473.8C416.2,474.2 420.4,474.9 425.0,475.5C429.6,476.1 435.8,477.0 440.0,477.5C444.2,478.0 447.3,478.1 450.0,478.8C452.7,479.4 454.2,480.0 456.0,481.2C457.8,482.5 459.1,484.0 461.0,486.2C462.9,488.5 465.4,492.3 467.2,495.0C469.1,497.7 470.9,500.0 472.2,502.5C473.6,505.0 474.9,507.8 475.5,510.0C476.1,512.2 475.5,513.3 476.0,516.0C476.5,518.7 477.5,522.5 478.5,526.0C479.5,529.5 481.1,533.7 482.2,537.2C483.4,540.8 484.8,544.5 485.5,547.2C486.2,550.0 486.8,551.4 486.5,553.5C486.2,555.6 484.7,558.1 484.0,559.8C483.3,561.4 483.4,563.0 482.2,563.5C481.1,564.0 478.5,562.4 477.2,563.0C476.0,563.6 475.5,565.3 474.8,567.2C474.0,569.2 473.1,572.2 473.0,574.8C472.9,577.2 473.6,580.2 474.0,582.2C474.4,584.3 475.4,585.8 475.5,587.2C475.6,588.7 475.5,589.6 474.8,591.0C474.0,592.4 471.8,593.8 471.0,595.5C470.2,597.2 469.7,599.0 469.8,601.0C469.8,603.0 470.2,605.7 471.5,607.2C472.8,608.8 474.8,610.6 477.2,610.5C479.7,610.4 483.1,607.9 486.0,606.5C488.9,605.1 492.2,603.2 494.8,602.2C497.3,601.3 499.8,600.7 501.5,601.0C503.2,601.3 503.4,602.4 504.8,604.0C506.1,605.6 507.9,608.6 509.8,610.5C511.6,612.4 513.5,613.8 516.0,615.5C518.5,617.2 522.5,618.3 524.8,620.5C527.0,622.7 528.1,625.9 529.8,628.5C531.4,631.1 533.1,634.2 534.8,636.0C536.4,637.8 537.5,638.8 539.8,639.2C542.0,639.7 545.4,639.0 548.5,638.5C551.6,638.0 555.6,637.1 558.5,636.5C561.4,635.9 564.1,634.4 566.0,634.8C567.9,635.1 568.8,636.8 569.8,638.5C570.7,640.2 571.5,642.0 571.5,644.8C571.5,647.5 570.5,651.6 569.8,654.8C569.0,657.9 568.0,660.8 567.2,663.5C566.5,666.2 565.5,668.3 565.5,671.0C565.5,673.7 566.5,676.8 567.2,679.8C568.0,682.7 569.3,685.8 569.8,688.5C570.2,691.2 570.5,694.0 569.8,696.0C569.0,698.0 565.9,698.8 565.5,700.5C565.1,702.2 566.5,703.8 567.2,706.0C568.0,708.2 568.9,711.2 569.8,713.5C570.6,715.8 571.2,718.3 572.2,719.8C573.3,721.2 573.7,722.0 576.0,722.2C578.3,722.5 582.7,721.4 586.0,721.0C589.3,720.6 593.3,720.0 596.0,719.8C598.7,719.5 600.4,719.3 602.2,719.8C604.1,720.2 605.5,720.9 607.2,722.2C609.0,723.6 612.5,728.0 612.5,728.0Z" fill="none" stroke="#0a0010" stroke-width="1.9" stroke-linejoin="round"/>
<g stroke="#0b0b0b" stroke-width="1.7" fill="none">
<path d="M185.2,245.6 V839.4 H818.8"/>
<path d="M180.6,318.10 H185.3"/>
<path d="M180.6,406.82 H185.3"/>
<path d="M180.6,495.54 H185.3"/>
<path d="M180.6,584.26 H185.3"/>
<path d="M180.6,672.98 H185.3"/>
<path d="M180.6,761.70 H185.3"/>
<path d="M209.70,839.3 V844"/>
<path d="M291.85,839.3 V844"/>
<path d="M374.00,839.3 V844"/>
<path d="M456.15,839.3 V844"/>
<path d="M538.30,839.3 V844"/>
<path d="M620.45,839.3 V844"/>
<path d="M702.60,839.3 V844"/>
<path d="M784.75,839.3 V844"/>
</g>
<text class="tk" x="175.6" y="327.00" text-anchor="end">42.8</text>
<text class="tk" x="175.6" y="415.72" text-anchor="end">42.6</text>
<text class="tk" x="175.6" y="504.44" text-anchor="end">42.4</text>
<text class="tk" x="175.6" y="593.16" text-anchor="end">42.2</text>
<text class="tk" x="175.6" y="681.88" text-anchor="end">42.0</text>
<text class="tk" x="175.6" y="770.60" text-anchor="end">41.8</text>
<text class="tk" x="209.70" y="865.8" text-anchor="middle">13.00</text>
<text class="tk" x="291.85" y="865.8" text-anchor="middle">13.25</text>
<text class="tk" x="374.00" y="865.8" text-anchor="middle">13.50</text>
<text class="tk" x="456.15" y="865.8" text-anchor="middle">13.75</text>
<text class="tk" x="538.30" y="865.8" text-anchor="middle">14.00</text>
<text class="tk" x="620.45" y="865.8" text-anchor="middle">14.25</text>
<text class="tk" x="702.60" y="865.8" text-anchor="middle">14.50</text>
<text class="tk" x="784.75" y="865.8" text-anchor="middle">14.75</text>
<text class="tk al" x="501.8" y="893.3" text-anchor="middle">Longitudine</text>
<text class="tk al" transform="translate(111.9,545) rotate(-90)" text-anchor="middle">Latitudine</text>
<rect x="857.3" y="236.2" width="31.2" height="612.8" fill="url(#cb)" stroke="#111" stroke-width="1.6"/>
<g stroke="#0b0b0b" stroke-width="1.7">
<path d="M888.6,806.60 h4.6"/>
<path d="M888.6,691.40 h4.6"/>
<path d="M888.6,576.20 h4.6"/>
<path d="M888.6,461.00 h4.6"/>
<path d="M888.6,345.80 h4.6"/>
</g>
<text class="tk" x="897" y="815.30">0.0</text>
<text class="tk" x="897" y="700.10">0.2</text>
<text class="tk" x="897" y="584.90">0.4</text>
<text class="tk" x="897" y="469.70">0.6</text>
<text class="tk" x="897" y="354.50">0.8</text>
<text class="tk al" transform="translate(959.5,541.3) rotate(-90)" text-anchor="middle">Anomalia di temperatura (°C)</text>
<g role="img" aria-label="OSSERVATE">
<defs><linearGradient id="teg" gradientUnits="userSpaceOnUse" x1="300" y1="950" x2="285" y2="965"><stop offset="0" stop-color="#ee1400"/><stop offset="0.25" stop-color="#ee1400"/><stop offset="0.25" stop-color="#ffffff"/><stop offset="0.69" stop-color="#ffffff"/><stop offset="0.69" stop-color="#ee1400"/><stop offset="1" stop-color="#ee1400"/></linearGradient></defs>
<path fill="#0a84e0" fill-rule="evenodd" d="M41.20,951.40 Q50.10,962.36 54.81,975.67 A15.60,15.60 0 1 1 27.59,975.67 Q32.30,962.36 41.20,951.40Z M41.20,966.00 Q45.72,972.34 48.09,979.75 A7.70,7.70 0 1 1 34.31,979.75 Q36.68,972.34 41.20,966.00Z"/>
<text class="lg" font-size="50.20" y="996.00" stroke-width="2.00" stroke-linejoin="miter"><tspan x="59.42" textLength="33.62" lengthAdjust="spacingAndGlyphs" fill="#0a84e0" stroke="#0a84e0">S</tspan><tspan x="96.03" textLength="33.44" lengthAdjust="spacingAndGlyphs" fill="#0a84e0" stroke="#0a84e0">S</tspan><tspan x="132.45" textLength="30.08" lengthAdjust="spacingAndGlyphs" fill="#0a84e0" stroke="#0a84e0">E</tspan><tspan x="167.51" textLength="36.22" lengthAdjust="spacingAndGlyphs" fill="#0c991b" stroke="#0c991b">R</tspan><tspan x="207.02" textLength="34.36" lengthAdjust="spacingAndGlyphs" fill="#0c991b" stroke="#0c991b">V</tspan><tspan x="244.26" textLength="37.67" lengthAdjust="spacingAndGlyphs" fill="#0c991b" stroke="#0c991b">A</tspan><tspan x="284.51" textLength="31.38" lengthAdjust="spacingAndGlyphs" fill="url(#teg)" stroke="url(#teg)">T</tspan><tspan x="319.91" textLength="30.01" lengthAdjust="spacingAndGlyphs" fill="url(#teg)" stroke="url(#teg)">E</tspan></text>
<path fill="#0c991b" d="M170.3,951.2 C168.2,944.5 170.2,936.5 177.5,930.8 C184,926 191.5,924.3 199.4,923.1 C199.6,931 197.6,939.5 191.6,945 C186.2,949.8 179.2,951.8 172.6,952.6 C171.6,954.6 171.2,957.5 171.1,960.3 L169.1,960.3 C169.1,957 169.5,953.8 170.3,951.2Z"/>
<path fill="none" stroke="#bfe0ab" stroke-width="1.5" stroke-linecap="round" d="M171.6,951.6 C174.5,944.5 180.5,938 188.2,933.8"/>
</g>
</svg>
</body></html>
